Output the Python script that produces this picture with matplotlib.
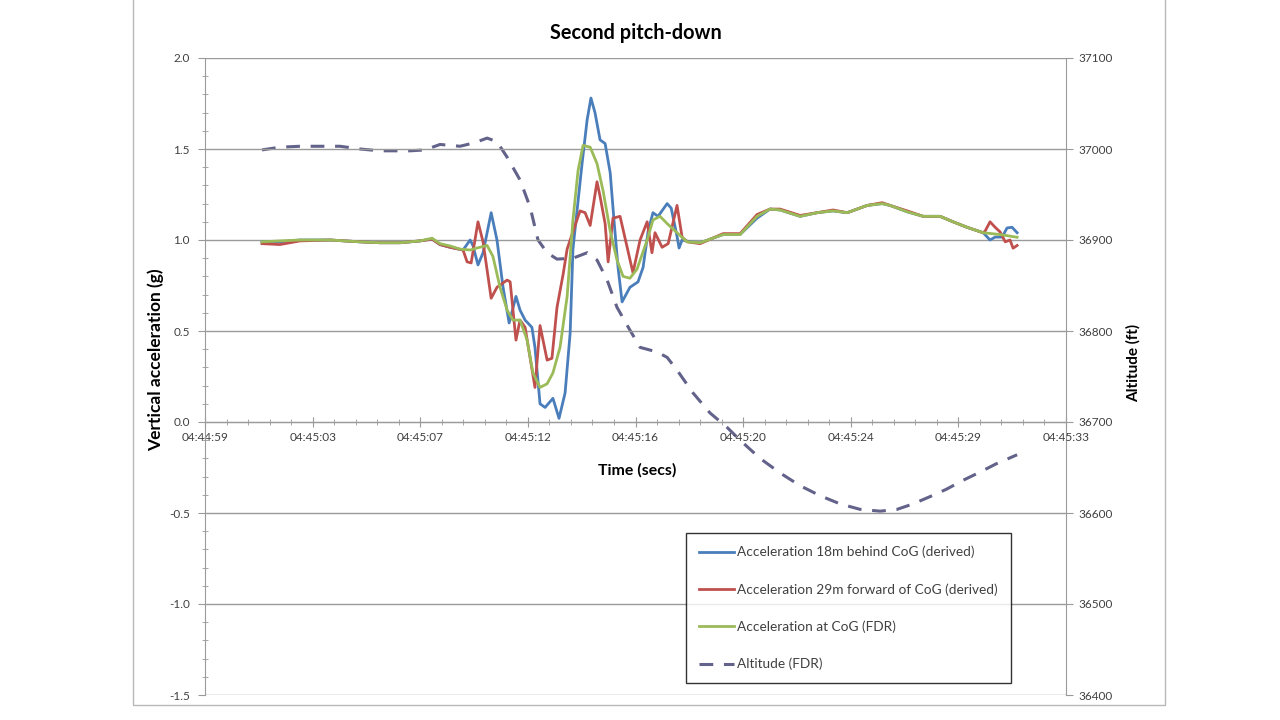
import matplotlib.pyplot as plt
import matplotlib.patches as patches
from matplotlib.lines import Line2D
from matplotlib.ticker import MultipleLocator

plt.rcParams['font.family'] = ['Lato', 'DejaVu Sans']

# tiempo en segundos desde 04:44:59
t_cog = [2.25, 2.96, 3.75, 4.94, 6.12, 6.91, 7.70, 8.49, 8.97, 9.28, 9.68, 10.07, 10.47, 10.74,
         11.14, 11.37, 11.65, 11.93, 12.16, 12.44, 12.72, 12.95, 13.23, 13.51, 13.74, 14.02, 14.30,
         14.53, 14.73, 14.93, 15.21, 15.48, 15.72, 16.00, 16.27, 16.51, 16.78, 17.06, 17.46, 17.69,
         17.97, 18.25, 18.64, 19.04, 19.55, 20.46, 21.13, 21.80, 22.31, 22.71, 23.50, 24.17, 24.80,
         25.36, 26.15, 26.74, 27.05, 27.73, 28.36, 29.03, 29.54, 30.09, 30.73, 31.40, 32.07]
acc_cog = [0.99, 0.995, 1.00, 1.00, 0.99, 0.985, 0.985, 0.995, 1.01, 0.98, 0.967, 0.95, 0.945, 0.956,
           0.97, 0.91, 0.74, 0.615, 0.56, 0.56, 0.45, 0.27, 0.19, 0.21, 0.27, 0.41, 0.69,
           1.11, 1.38, 1.52, 1.51, 1.42, 1.27, 1.05, 0.89, 0.80, 0.79, 0.84, 1.00, 1.11,
           1.13, 1.09, 1.04, 0.99, 0.985, 1.03, 1.03, 1.13, 1.17, 1.165, 1.13, 1.15, 1.16,
           1.15, 1.19, 1.20, 1.19, 1.155, 1.13, 1.13, 1.10, 1.07, 1.04, 1.03, 1.015]

t_behind = [2.25, 2.96, 3.75, 4.94, 6.12, 6.91, 7.70, 8.49, 8.97, 9.28, 9.68, 10.19, 10.47, 10.58,
            10.78, 10.98, 11.30, 11.53, 11.77, 12.01, 12.28, 12.44, 12.64, 12.91, 13.03, 13.23,
            13.43, 13.74, 13.98, 14.22, 14.42, 14.53, 14.89, 15.09, 15.24, 15.40, 15.60, 15.80,
            16.00, 16.15, 16.31, 16.47, 16.78, 17.10, 17.30, 17.50, 17.69, 17.89, 18.25, 18.41,
            18.64, 18.72, 18.84, 19.16, 19.55, 20.46, 21.13, 21.80, 22.31, 22.71, 23.50, 24.17,
            24.80, 25.36, 26.15, 26.74, 27.05, 27.73, 28.36, 29.03, 29.54, 30.09, 30.73, 31.00,
            31.20, 31.48, 31.67, 31.87, 32.07]
acc_behind = [0.99, 0.99, 1.00, 1.00, 0.99, 0.985, 0.985, 0.995, 1.005, 0.975, 0.96, 0.945, 1.00, 0.97,
              0.863, 0.93, 1.15, 1.00, 0.74, 0.544, 0.69, 0.615, 0.56, 0.52, 0.41, 0.10,
              0.08, 0.13, 0.02, 0.16, 0.49, 0.95, 1.42, 1.66, 1.78, 1.70, 1.55, 1.53,
              1.37, 1.11, 0.85, 0.66, 0.74, 0.77, 0.85, 1.05, 1.15, 1.13, 1.20, 1.175,
              1.02, 0.956, 1.00, 0.99, 0.985, 1.03, 1.03, 1.12, 1.17, 1.165, 1.13, 1.15,
              1.16, 1.15, 1.19, 1.20, 1.19, 1.155, 1.13, 1.13, 1.10, 1.07, 1.04, 1.00,
              1.016, 1.016, 1.066, 1.07, 1.04]

t_forward = [2.25, 2.96, 3.75, 4.94, 6.12, 6.91, 7.70, 8.49, 8.97, 9.28, 9.68, 10.19, 10.35, 10.51,
             10.78, 10.98, 11.30, 11.53, 11.93, 12.05, 12.28, 12.44, 12.64, 13.03, 13.23, 13.51,
             13.70, 13.90, 14.14, 14.30, 14.42, 14.81, 15.01, 15.21, 15.48, 15.60, 15.80, 15.92,
             16.11, 16.39, 16.67, 16.90, 17.18, 17.46, 17.65, 17.77, 18.05, 18.29, 18.64, 18.84,
             19.04, 19.55, 20.46, 21.13, 21.80, 22.31, 22.71, 23.50, 24.17, 24.80, 25.36, 26.15,
             26.74, 27.05, 27.73, 28.36, 29.03, 29.54, 30.09, 30.73, 30.81, 31.00, 31.20, 31.40,
             31.60, 31.79, 31.91, 32.07]
acc_forward = [0.98, 0.975, 0.995, 1.00, 0.99, 0.985, 0.985, 0.995, 1.005, 0.975, 0.96, 0.945, 0.88, 0.874,
               1.10, 0.99, 0.68, 0.74, 0.78, 0.77, 0.45, 0.56, 0.52, 0.19, 0.53, 0.34,
               0.35, 0.63, 0.81, 0.95, 1.00, 1.16, 1.15, 1.08, 1.32, 1.24, 1.09, 0.88,
               1.12, 1.13, 0.96, 0.82, 1.00, 1.10, 0.93, 1.04, 0.96, 0.98, 1.19, 1.016,
               0.99, 0.98, 1.035, 1.035, 1.14, 1.17, 1.17, 1.135, 1.15, 1.165, 1.15, 1.19,
               1.205, 1.19, 1.16, 1.13, 1.13, 1.10, 1.07, 1.04, 1.05, 1.10, 1.07, 1.044,
               0.99, 1.00, 0.955, 0.97]

t_alt = [2.25, 2.96, 3.75, 5.33, 6.12, 6.91, 8.10, 8.69, 9.28, 10.07, 10.66, 11.14, 11.53, 11.93,
         12.44, 12.84, 13.15, 13.51, 13.90, 14.53, 15.09, 15.48, 15.88, 16.27, 16.78, 17.18,
         17.85, 18.25, 18.64, 19.27, 19.94, 20.62, 21.13, 21.92, 22.71, 23.50, 24.29, 25.08,
         25.87, 26.66, 27.33, 27.96, 28.63, 29.27, 29.94, 30.61, 31.24, 32.07]
altitud = [36999, 37002, 37003, 37003, 37000, 36998, 36998, 36999, 37005, 37003, 37007, 37012, 37008, 36991,
           36966, 36936, 36900, 36886, 36879, 36880, 36886, 36878, 36856, 36826, 36801, 36782,
           36777, 36771, 36757, 36732, 36710, 36694, 36680, 36660, 36644, 36630, 36619, 36610,
           36604, 36602, 36604, 36610, 36618, 36626, 36636, 36645, 36654, 36664]

x_ticks = [0, 4.25, 8.5, 12.75, 17, 21.25, 25.5, 29.75, 34]
x_labels = ['04:44:59', '04:45:03', '04:45:07', '04:45:12', '04:45:16',
            '04:45:20', '04:45:24', '04:45:29', '04:45:33']

azul = '#4a7ebb'
rojo = '#c0504d'
verde = '#9bbb59'
gris_alt = '#62628a'
gris = '#9a9a9a'
texto = '#404040'

fig = plt.figure(figsize=(12.8, 7.2), dpi=100)
marco = patches.Rectangle((133 / 1280, 15 / 720), 1032 / 1280, 1.0, transform=fig.transFigure,
                          fill=False, edgecolor='#b8b8b8', lw=1)
fig.patches.append(marco)

ax = fig.add_axes([205 / 1280, 25 / 720, 861 / 1280, 637 / 720])
ax2 = ax.twinx()
ax.set_zorder(ax2.get_zorder() + 1)
ax.patch.set_visible(False)

ax2.plot(t_alt, altitud, color=gris_alt, lw=2.2, dashes=(4.5, 3.5))
ax.plot(t_behind, acc_behind, color=azul, lw=2)
ax.plot(t_forward, acc_forward, color=rojo, lw=2)
ax.plot(t_cog, acc_cog, color=verde, lw=2)

# ejes
ax.set_xlim(0, 34)
ax.set_ylim(-1.5, 2.0)
ax2.set_ylim(36400, 37100)
ax.set_yticks([-1.5, -1.0, -0.5, 0.0, 0.5, 1.0, 1.5, 2.0])
ax.set_yticklabels(['-1.5', '-1.0', '-0.5', '0.0', '0.5', '1.0', '1.5', '2.0'])
ax.yaxis.set_minor_locator(MultipleLocator(0.1))
ax2.set_yticks(range(36400, 37101, 100))
ax.set_xticks(x_ticks)
ax.set_xticklabels(x_labels)
ax.xaxis.set_minor_locator(MultipleLocator(0.85))

ax.yaxis.grid(True, color=gris, lw=1)
ax.set_axisbelow(True)

ax.spines['bottom'].set_position(('data', 0))
ax.spines['top'].set_visible(False)
ax.spines['right'].set_visible(False)
ax2.spines['top'].set_visible(False)
ax2.spines['left'].set_visible(False)
ax2.spines['bottom'].set_visible(False)
for s in [ax.spines['left'], ax.spines['bottom'], ax2.spines['right']]:
    s.set_color(gris)

ax.tick_params(axis='x', which='major', direction='inout', length=7, color=gris,
               labelsize=8.5, labelcolor=texto, pad=4)
ax.tick_params(axis='x', which='minor', direction='inout', length=4, color=gris)
ax.tick_params(axis='y', which='major', direction='out', length=5, color=gris,
               labelsize=8.5, labelcolor=texto, pad=6)
ax.tick_params(axis='y', which='minor', direction='inout', length=4, color=gris)
ax2.tick_params(axis='y', direction='out', length=5, color=gris,
                labelsize=8.5, labelcolor=texto, pad=4)

fig.text(636 / 1280, 1 - 33 / 720, 'Second pitch-down', ha='center', va='center',
         fontsize=14.3, fontweight='bold', color='black')
fig.text(637 / 1280, 1 - 470 / 720, 'Time (secs)', ha='center', va='center',
         fontsize=11.4, fontweight='bold', color='black')
fig.text(156 / 1280, 1 - 360 / 720, 'Vertical acceleration (g)', ha='center', va='center',
         rotation=90, fontsize=12.5, fontweight='bold', color='black')
fig.text(1133 / 1280, 1 - 363 / 720, 'Altitude (ft)', ha='center', va='center',
         rotation=90, fontsize=11, fontweight='bold', color='black')

# leyenda
handles = [Line2D([], [], color=azul, lw=2),
           Line2D([], [], color=rojo, lw=2),
           Line2D([], [], color=verde, lw=2),
           Line2D([], [], color=gris_alt, lw=2.2, dashes=(4.5, 3.5))]
labels = ['Acceleration 18m behind CoG (derived)',
          'Acceleration 29m forward of CoG (derived)',
          'Acceleration at CoG (FDR)',
          'Altitude (FDR)']
leg = fig.legend(handles, labels, loc='upper left', bbox_to_anchor=(686 / 1280, 1 - 533 / 720),
                 frameon=True, fancybox=False, edgecolor='black', fontsize=9.8,
                 labelspacing=1.82, handlelength=2.6, handletextpad=0.2, borderpad=0.95,
                 borderaxespad=0)
leg.get_frame().set_linewidth(1)
for txt in leg.get_texts():
    txt.set_color(texto)

plt.savefig('out.png', dpi=100)
